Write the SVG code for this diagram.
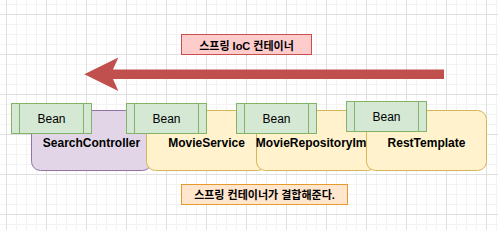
<svg xmlns="http://www.w3.org/2000/svg" width="498" height="230" viewBox="0 0 498 230">
<style>
.lbl{font-family:"Liberation Sans","Noto Sans CJK KR",sans-serif;font-weight:bold;font-size:12px;fill:#000;text-anchor:middle}
.ko{font-family:"Liberation Sans","Noto Sans CJK KR",sans-serif;font-weight:bold;font-size:11px;fill:#000;text-anchor:middle}
.bean{font-family:"Liberation Sans",Arial,sans-serif;font-size:12px;fill:#000;text-anchor:middle}
.purple{fill:#e1d5e7;stroke:#9673a6}
.yellow{fill:#fff2cc;stroke:#d6b656}
.green{fill:#d5e8d4;stroke:#82b366}
</style>
<defs>
<pattern id="grid" x="6" y="14" width="40" height="40" patternUnits="userSpaceOnUse">
<path d="M10.5 0V40M20.5 0V40M30.5 0V40M0 10.5H40M0 20.5H40M0 30.5H40" stroke="#f3f3f3" stroke-width="1" fill="none"/>
<path d="M0.5 0V40M0 0.5H40" stroke="#e0e0e0" stroke-width="1" fill="none"/>
</pattern>
</defs>
<rect x="0" y="0" width="498" height="230" fill="#ffffff"/>
<rect x="0" y="0" width="498" height="230" fill="url(#grid)"/>

<g id="connectors">
<path d="M444 69.5 L113 69.5 L118.3 57.5 L84.3 74.3 L118.3 91 L113 79 L444 79 Z" fill="#c0504d"/>
</g>

<g id="title">
<rect x="181.5" y="34.5" width="130" height="20" fill="#ffcccc" stroke="#c8504c"/>
<text class="ko" x="246.5" y="50">스프링 IoC 컨테이너</text>
</g>

<g id="searchController">
<rect class="purple" x="31.5" y="110.5" width="120" height="60" rx="9"/>
<text class="lbl" x="91.5" y="146.5">SearchController</text>
</g>
<g id="movieService">
<rect class="yellow" x="146.5" y="110.5" width="120" height="60" rx="9"/>
<text class="lbl" x="206.5" y="146.5">MovieService</text>
</g>
<g id="movieRepositoryImpl">
<rect class="yellow" x="256.5" y="110.5" width="120" height="60" rx="9"/>
<text class="lbl" x="316.5" y="146.5">MovieRepositoryImpl</text>
</g>
<g id="restTemplate">
<rect class="yellow" x="366.5" y="110.5" width="120" height="60" rx="9"/>
<text class="lbl" x="426.5" y="146.5">RestTemplate</text>
</g>

<g id="bean1">
<rect class="green" x="11.5" y="103.5" width="80" height="30"/>
<path class="green" d="M19.5 103.5V133.5M83.5 103.5V133.5"/>
<text class="bean" x="51.5" y="123">Bean</text>
</g>
<g id="bean2">
<rect class="green" x="126.5" y="103.5" width="80" height="30"/>
<path class="green" d="M134.5 103.5V133.5M198.5 103.5V133.5"/>
<text class="bean" x="166.5" y="123">Bean</text>
</g>
<g id="bean3">
<rect class="green" x="236.5" y="103.5" width="80" height="30"/>
<path class="green" d="M244.5 103.5V133.5M308.5 103.5V133.5"/>
<text class="bean" x="276.5" y="123">Bean</text>
</g>
<g id="bean4">
<rect class="green" x="346.5" y="101.5" width="80" height="30"/>
<path class="green" d="M354.5 101.5V131.5M418.5 101.5V131.5"/>
<text class="bean" x="386.5" y="121">Bean</text>
</g>

<g id="note">
<rect x="181.5" y="184.5" width="166" height="20" fill="#ffe6cc" stroke="#e69a2e"/>
<text class="ko" x="264.5" y="199">스프링 컨테이너가 결합해준다.</text>
</g>
</svg>
